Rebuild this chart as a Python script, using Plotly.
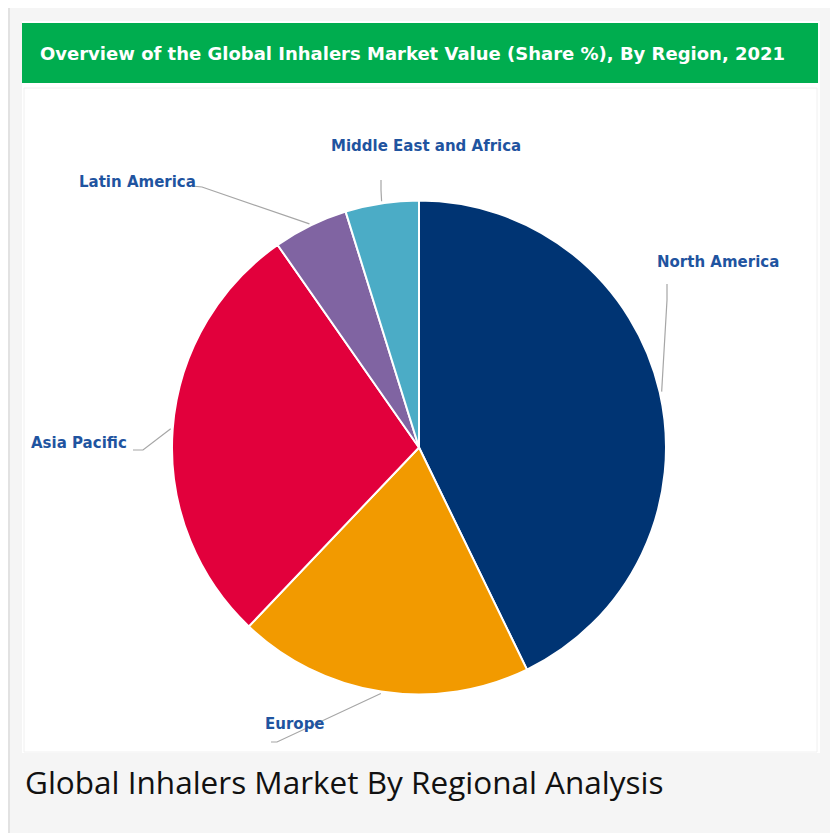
import math
import plotly.graph_objects as go

# ---- data ----
regions = ["North America", "Europe", "Asia Pacific", "Latin America", "Middle East and Africa"]
shares = [42.8, 19.3, 28.2, 4.9, 4.8]
colors = ["#003473", "#F29A00", "#E2003C", "#8064A2", "#4BACC6"]
title_text = "Overview of the Global Inhalers Market Value (Share %), By Region, 2021"
caption_text = "Global Inhalers Market By Regional Analysis"

# ---- layout constants (pixels, in page coordinates) ----
OFF = 8  # default page body margin
W, H = 838 - OFF, 833 - OFF
CX, CY, R = 419, 447.5, 247

def px(x):
    return (x - OFF) / W

def py(y):
    return 1 - (y - OFF) / H

# label placement: (text x, text y, xanchor, elbow point, end point)
label_layout = {
    "North America": (718, 262, "center", (667, 300), (667, 284)),
    "Europe": (295, 724, "center", (277, 742), (271, 742)),
    "Asia Pacific": (129, 443, "right", (143, 450), (133, 450)),
    "Latin America": (198, 182, "right", (202, 187), (192, 186)),
    "Middle East and Africa": (426, 146, "center", (381, 190), (381, 180)),
}

fig = go.Figure()

fig.add_trace(go.Pie(
    labels=regions,
    values=shares,
    marker=dict(colors=colors, line=dict(color="white", width=2)),
    sort=False,
    direction="clockwise",
    rotation=0,
    textinfo="none",
    hoverinfo="label+percent",
    showlegend=False,
    domain=dict(x=[px(CX - R), px(CX + R)], y=[py(CY + R), py(CY - R)]),
))

shapes = [
    # outer grey panel
    dict(type="rect", xref="paper", yref="paper", x0=px(9), x1=px(837), y0=py(840), y1=py(7),
         fillcolor="#F5F5F5", line=dict(color="#E2E2E2", width=2), layer="below"),
    # white panel
    dict(type="rect", xref="paper", yref="paper", x0=px(22), x1=px(820), y0=py(753), y1=py(21),
         fillcolor="#FFFFFF", line=dict(width=0), layer="below"),
    # green header
    dict(type="rect", xref="paper", yref="paper", x0=px(22), x1=px(818), y0=py(83), y1=py(23),
         fillcolor="#00AD4F", line=dict(width=0), layer="below"),
    # chart frame
    dict(type="rect", xref="paper", yref="paper", x0=px(24), x1=px(817), y0=py(752), y1=py(88),
         fillcolor="#FFFFFF", line=dict(color="#F0F0F0", width=1), layer="below"),
]

annotations = [
    dict(text="<b>" + title_text + "</b>", x=px(38), y=py(53), xref="paper", yref="paper",
         xanchor="left", yanchor="middle", showarrow=False,
         font=dict(family="DejaVu Sans", size=18, color="white")),
    dict(text=caption_text, x=px(23), y=py(781), xref="paper", yref="paper",
         xanchor="left", yanchor="middle", showarrow=False,
         font=dict(family="Open Sans", size=31.5, color="#111111")),
]

total = sum(shares)
cum = 0.0
for name, val in zip(regions, shares):
    mid = (cum + val / 2) / total * 2 * math.pi
    cum += val
    ex = CX + (R + 2) * math.sin(mid)
    ey = CY - (R + 2) * math.cos(mid)
    tx, ty, anchor, elbow, end = label_layout[name]
    path = f"M {px(ex)} {py(ey)} L {px(elbow[0])} {py(elbow[1])} L {px(end[0])} {py(end[1])}"
    shapes.append(dict(type="path", xref="paper", yref="paper", path=path,
                       line=dict(color="#A6A6A6", width=1.2)))
    annotations.append(dict(text="<b>" + name + "</b>", x=px(tx), y=py(ty), xref="paper", yref="paper",
                            xanchor=anchor, yanchor="middle", showarrow=False,
                            font=dict(family="DejaVu Sans", size=15, color="#1F54A0")))

fig.update_layout(
    width=W, height=H,
    margin=dict(l=0, r=0, t=0, b=0),
    paper_bgcolor="white",
    plot_bgcolor="white",
    shapes=shapes,
    annotations=annotations,
)

fig.write_html("out.html")
